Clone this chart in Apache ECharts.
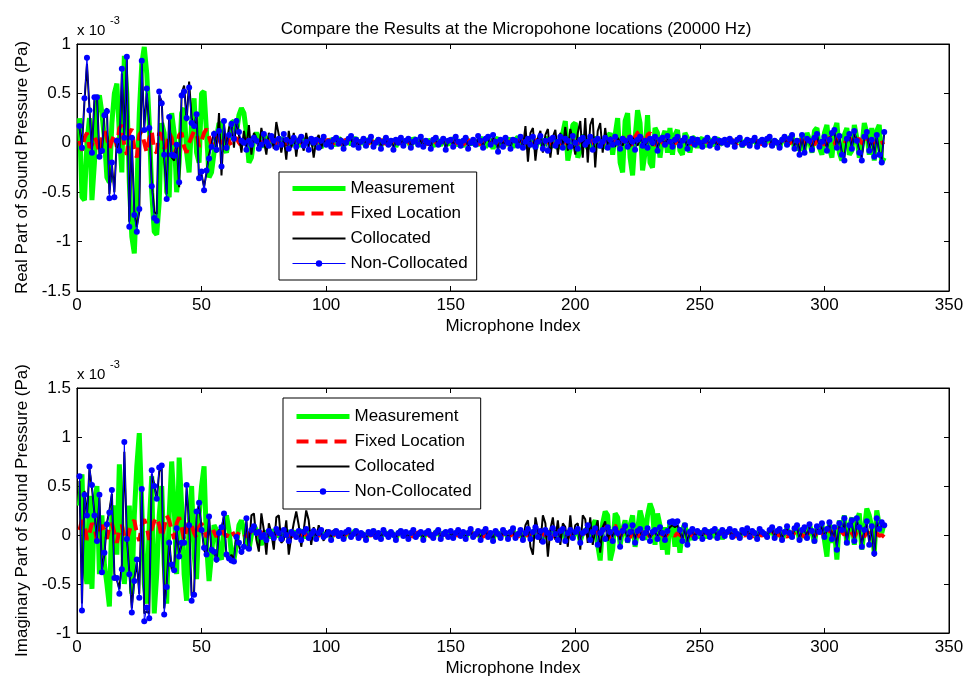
<!DOCTYPE html>
<html><head><meta charset="utf-8">
<script src="https://cdn.jsdelivr.net/npm/echarts@6/dist/echarts.min.js"></script>
<style>html,body{margin:0;padding:0;background:#fff}#c{width:972px;height:688px}</style>
</head><body><div id="c"></div>
<script>
// ---- data (values in units of 1e-3 Pa), microphone index 1..324 ----
const titleText = 'Compare the Results at the Micropohone locations (20000 Hz)';
const seriesNames = ['Measurement', 'Fixed Location', 'Collocated', 'Non-Collocated'];
const xTickValues = [0, 50, 100, 150, 200, 250, 300, 350];
const realTicks = [-1.5, -1, -0.5, 0, 0.5, 1];
const imagTicks = [-1, -0.5, 0, 0.5, 1, 1.5];

const realMeasurement = [
0.25,-0.55,-0.58,0.00,0.25,-0.58,-0.20,0.40,0.48,0.30,
0.05,-0.35,-0.40,0.20,0.50,0.60,0.10,-0.30,0.88,0.50,
-0.40,-0.95,-1.12,-0.50,0.30,0.80,0.97,0.70,0.20,-0.50,
-0.90,-0.93,-0.60,0.20,0.10,-0.50,-0.55,0.30,0.10,-0.50,
-0.20,0.30,0.35,-0.10,-0.30,0.20,0.45,-0.10,-0.20,0.50,
0.52,0.10,-0.35,-0.30,-0.10,0.05,0.20,0.18,-0.05,-0.10,
0.05,0.20,0.22,0.10,0.28,0.35,0.30,0.10,-0.20,-0.15,
0.05,0.10,0.05,-0.05,0.08,0.04,-0.03,0.06,0.02,-0.04,
0.03,0.05,-0.02,0.04,0.01,-0.03,0.05,0.02,-0.04,0.03,
0.04,-0.02,0.01,0.05,-0.03,0.02,0.04,-0.05,0.01,0.03,
-0.02,0.04,0.02,-0.03,0.05,0.01,-0.04,0.03,0.02,-0.02,
0.03,0.05,-0.03,0.02,0.01,-0.04,0.04,0.03,-0.02,0.01,
0.04,-0.03,0.02,0.05,-0.02,0.01,0.03,-0.04,0.02,0.04,
-0.02,0.03,0.01,-0.04,0.05,0.02,-0.03,0.04,0.01,-0.02,
0.03,0.01,-0.04,0.04,0.02,-0.03,0.05,0.00,-0.02,0.03,
0.04,-0.03,0.02,0.01,-0.04,0.05,0.02,-0.02,0.03,0.01,
-0.03,0.05,0.03,-0.05,0.04,0.02,-0.06,0.03,0.05,-0.04,
0.02,0.04,-0.03,0.05,-0.05,0.03,0.06,-0.04,0.02,0.04,
-0.05,0.03,0.05,-0.06,0.02,0.06,-0.04,0.03,0.05,-0.05,
0.04,0.02,-0.06,0.05,0.10,0.22,-0.18,-0.05,0.18,0.20,
-0.15,-0.08,0.08,0.03,-0.06,0.05,-0.08,0.06,0.02,-0.05,
0.04,-0.06,0.05,0.10,-0.12,0.08,0.25,-0.20,-0.30,0.22,
0.30,-0.15,-0.33,0.05,0.33,0.20,-0.28,-0.10,0.28,-0.20,
-0.25,0.15,0.10,-0.15,0.05,0.12,-0.10,0.15,-0.12,0.08,
0.13,-0.08,-0.12,0.10,0.05,-0.10,0.06,0.04,-0.05,0.03,
0.05,-0.04,0.02,0.04,-0.03,0.02,0.05,-0.02,0.01,0.03,
-0.03,0.04,0.02,-0.02,0.03,0.05,-0.04,0.01,0.03,-0.02,
0.02,0.04,-0.03,0.02,0.03,-0.02,0.04,0.05,-0.04,0.02,
0.01,-0.05,0.03,0.06,-0.03,0.05,0.08,-0.06,0.04,-0.08,
0.06,-0.08,0.10,0.03,-0.10,0.12,0.15,-0.05,-0.12,0.10,
0.18,-0.05,-0.15,0.12,0.20,-0.10,-0.18,0.08,0.15,-0.12,
-0.08,0.18,0.05,-0.15,-0.05,0.20,0.10,-0.12,0.15,-0.18,
0.12,0.18,-0.20,-0.15];

const realFixed = [
0.02,-0.08,0.05,0.10,-0.05,-0.02,0.06,0.00,-0.10,0.04,
0.12,0.05,-0.06,0.02,0.08,-0.04,0.15,0.18,-0.03,-0.12,
0.10,0.14,-0.05,-0.15,0.08,0.12,0.00,-0.10,0.05,0.12,
-0.08,-0.10,0.10,0.08,-0.06,-0.02,0.10,0.05,-0.12,-0.05,
0.08,0.10,-0.04,-0.10,0.00,0.06,0.12,0.10,-0.04,0.02,
0.10,0.14,0.06,-0.02,0.03,0.08,0.04,-0.02,0.02,0.06,
0.02,-0.03,0.04,0.05,0.00,-0.03,0.02,0.04,0.01,-0.02,
0.02,0.03,-0.01,0.00,0.02,0.01,-0.02,0.03,0.02,-0.01,
0.01,0.03,0.00,-0.02,0.02,0.01,-0.01,0.02,0.03,0.00,
-0.02,0.01,0.02,0.03,-0.01,0.00,0.02,0.01,-0.02,0.02,
0.03,0.00,-0.01,0.02,0.01,-0.02,0.02,0.03,0.00,-0.01,
0.02,0.01,-0.02,0.01,0.03,0.00,-0.01,0.02,0.01,-0.02,
0.02,0.03,0.00,-0.01,0.02,0.01,-0.02,0.01,0.03,0.00,
-0.01,0.02,0.01,-0.02,0.02,0.03,0.00,-0.01,0.02,0.01,
-0.02,0.01,0.03,0.00,-0.01,0.02,0.01,-0.02,0.02,0.03,
0.00,-0.01,0.02,0.01,-0.02,0.01,0.03,0.00,-0.01,0.02,
0.01,-0.02,0.02,0.03,0.00,-0.01,0.02,0.01,-0.02,0.02,
0.03,0.00,-0.01,0.02,0.01,-0.02,0.01,0.03,0.00,-0.01,
0.02,0.01,-0.02,0.02,0.03,0.00,-0.01,0.02,0.01,-0.02,
0.01,0.03,0.00,-0.01,0.02,0.01,-0.02,0.02,0.03,0.00,
-0.01,0.02,0.01,-0.02,0.02,0.03,0.00,-0.01,0.02,0.01,
-0.02,0.03,0.04,0.00,-0.03,0.05,0.06,-0.02,0.04,0.08,
0.10,0.05,-0.05,0.06,0.10,0.12,0.02,-0.06,0.08,0.10,
0.03,-0.03,0.04,0.05,0.00,-0.02,0.03,0.04,0.01,-0.01,
0.02,0.03,0.00,-0.01,0.02,0.01,-0.02,0.01,0.03,0.00,
-0.01,0.02,0.01,-0.02,0.02,0.03,0.00,-0.01,0.02,0.01,
-0.02,0.01,0.03,0.00,-0.01,0.02,0.01,-0.02,0.02,0.03,
0.00,-0.01,0.02,0.01,-0.02,0.01,0.03,0.00,-0.01,0.02,
0.01,-0.02,0.02,0.03,0.00,-0.01,0.02,0.01,-0.02,0.02,
0.03,0.00,-0.01,0.02,0.01,-0.02,0.03,0.04,0.00,-0.02,
0.03,0.05,0.02,-0.02,0.04,0.06,0.03,-0.01,0.04,0.05,
0.02,-0.02,0.03,0.04,0.00,-0.03,0.02,0.03,-0.01,0.01,
0.02,-0.01,0.00,0.01];

const realCollocated = [
0.15,-0.03,0.42,0.80,0.35,-0.08,0.44,0.48,-0.12,-0.10,
0.30,0.35,-0.52,-0.22,-0.50,0.05,-0.10,0.70,0.08,0.85,
-0.80,0.02,-0.70,-0.85,-0.70,0.80,0.15,0.50,0.18,-0.40,
-0.70,-0.72,0.48,0.42,-0.15,-0.52,0.28,-0.15,-0.18,0.00,
-0.45,0.50,0.58,0.22,0.62,0.25,0.15,0.30,-0.38,-0.32,
-0.45,-0.30,-0.12,-0.02,0.12,-0.10,0.30,-0.33,0.20,-0.08,
0.15,0.22,-0.05,0.25,0.08,-0.10,0.12,-0.05,0.18,-0.12,
0.10,0.05,-0.08,0.15,0.02,-0.12,0.10,0.05,-0.06,0.21,
0.08,-0.10,0.05,-0.17,0.12,-0.05,0.10,-0.14,0.06,0.02,
-0.08,0.10,-0.04,0.05,-0.15,0.03,0.08,-0.06,0.04,-0.03,
0.02,-0.05,0.04,0.03,-0.02,0.05,-0.04,0.01,0.03,0.05,
-0.03,0.02,-0.04,0.03,0.05,-0.02,0.01,0.04,-0.05,0.02,
0.04,-0.05,0.02,0.03,-0.03,0.04,-0.06,0.02,0.01,0.04,
-0.02,0.03,0.05,-0.04,0.00,0.02,-0.03,0.05,-0.05,0.03,
0.01,-0.05,0.04,0.03,-0.03,0.02,0.05,-0.06,0.01,0.04,
-0.03,0.05,0.02,-0.04,0.03,0.04,-0.05,0.01,0.02,-0.03,
0.05,0.03,-0.04,0.03,0.05,-0.03,0.06,0.02,-0.07,0.04,
-0.03,0.04,0.01,-0.05,0.04,0.03,-0.02,0.05,-0.04,0.17,
-0.19,0.10,0.15,-0.18,0.05,0.12,-0.10,0.08,0.14,-0.15,
0.06,0.13,-0.12,0.10,-0.05,0.16,-0.08,0.14,0.02,-0.12,
0.10,0.22,-0.15,0.25,-0.20,0.18,0.25,-0.25,0.12,0.20,
-0.10,0.15,-0.05,0.06,0.02,-0.04,0.05,0.01,-0.03,0.04,
0.02,-0.04,0.05,0.01,-0.03,0.04,0.00,-0.05,0.03,0.02,
-0.03,0.05,-0.06,0.02,0.04,-0.02,0.05,0.00,-0.04,0.03,
0.05,-0.02,0.03,0.04,-0.05,0.02,0.03,-0.03,0.02,0.01,
-0.03,0.03,0.04,-0.02,0.02,0.03,-0.04,0.01,0.01,0.02,
-0.02,0.03,0.02,-0.03,0.02,0.04,-0.01,0.01,0.02,-0.02,
0.03,0.04,-0.03,0.02,0.02,-0.01,0.03,0.05,-0.02,0.01,
0.01,-0.04,0.02,0.05,-0.02,0.03,0.06,-0.05,0.03,-0.10,
0.06,-0.08,0.05,0.01,-0.06,0.04,0.08,-0.03,0.02,0.05,
-0.06,0.04,0.09,0.11,-0.04,0.06,-0.10,-0.15,0.05,0.08,
-0.05,0.10,0.03,-0.08,-0.15,0.05,0.10,-0.07,0.04,-0.12,
0.07,-0.10,-0.17,0.10];

const realNonCollocated = [
0.17,-0.05,0.45,0.86,0.33,-0.10,0.46,0.46,-0.14,-0.08,
0.28,0.32,-0.56,-0.20,-0.55,0.02,-0.08,0.75,0.05,0.87,
-0.85,0.05,-0.73,-0.90,-0.67,0.83,0.13,0.55,0.15,-0.44,
-0.76,-0.79,0.52,0.40,-0.12,-0.57,0.26,-0.12,-0.13,-0.02,
-0.40,0.48,0.52,0.25,0.56,0.20,0.17,0.29,-0.36,-0.29,
-0.48,-0.28,-0.16,-0.04,0.09,-0.07,0.12,-0.24,0.22,-0.05,
0.08,0.19,0.04,0.22,0.11,0.02,0.00,-0.07,0.02,-0.02,
0.05,0.02,-0.06,-0.02,0.09,0.01,-0.03,0.07,0.02,-0.05,
0.04,-0.02,0.09,0.03,-0.06,0.01,0.05,-0.04,0.02,0.06,
-0.03,0.01,-0.07,0.04,0.00,0.03,-0.05,0.02,0.06,-0.02,
0.01,-0.04,0.03,0.05,-0.01,0.02,-0.06,0.00,0.04,0.07,
-0.02,0.03,-0.05,0.01,0.04,-0.03,0.02,0.06,-0.04,0.00,
0.03,-0.06,0.01,0.05,-0.02,0.02,-0.07,0.03,0.00,0.05,
-0.03,0.02,0.04,-0.05,0.01,0.03,-0.02,0.06,-0.04,0.02,
0.00,-0.06,0.03,0.05,-0.02,0.01,0.04,-0.07,0.02,0.03,
-0.04,0.06,0.01,-0.03,0.02,0.05,-0.06,0.00,0.03,-0.02,
0.07,0.02,-0.05,0.04,0.06,-0.02,0.08,0.01,-0.09,0.03,
-0.04,0.05,0.00,-0.06,0.03,0.02,-0.03,0.06,-0.05,0.01,
0.04,-0.02,0.06,-0.04,0.01,0.07,-0.06,0.02,-0.08,0.03,
0.05,-0.03,0.01,0.06,-0.05,0.04,0.02,-0.04,0.07,0.00,
-0.06,0.03,0.05,-0.02,0.01,0.06,-0.07,0.02,0.04,-0.03,
0.01,0.05,-0.05,0.03,-0.02,0.06,0.00,-0.06,0.04,0.02,
-0.04,0.05,0.01,-0.07,0.03,0.06,-0.03,0.02,-0.05,0.04,
0.00,0.06,-0.08,0.03,0.05,-0.02,0.07,0.01,-0.04,0.03,
0.06,-0.03,0.02,0.05,-0.06,0.01,0.04,-0.02,0.03,0.00,
-0.04,0.02,0.05,-0.03,0.01,0.04,-0.05,0.02,0.00,0.03,
-0.02,0.04,0.01,-0.04,0.03,0.05,-0.02,0.00,0.03,-0.03,
0.02,0.05,-0.04,0.01,0.03,-0.02,0.04,0.06,-0.03,0.02,
0.00,-0.05,0.03,0.06,-0.02,0.04,0.08,-0.06,0.02,-0.12,
0.08,-0.10,0.04,0.02,-0.07,0.05,0.09,-0.04,0.01,0.06,
-0.08,0.03,0.10,0.13,-0.05,0.07,-0.12,-0.18,0.04,0.09,
-0.06,0.12,0.02,-0.10,-0.18,0.06,0.11,-0.08,0.03,-0.14,
0.08,-0.12,-0.20,0.11];

const imagMeasurement = [
0.30,0.62,-0.30,-0.50,0.40,-0.55,0.30,0.50,-0.40,0.20,
-0.30,-0.50,-0.73,0.20,0.30,-0.20,0.72,0.10,-0.50,-0.20,
0.30,-0.60,0.20,0.70,1.04,0.30,-0.50,-0.70,0.10,0.60,
-0.80,-0.40,0.20,0.50,-0.30,-0.70,0.20,0.75,0.30,-0.40,
0.79,0.30,-0.40,-0.67,0.10,0.50,-0.20,-0.45,0.20,0.50,
0.70,-0.10,-0.47,-0.20,0.10,0.05,-0.20,-0.25,0.10,0.20,
0.05,-0.20,-0.25,-0.10,0.10,0.15,0.05,-0.10,-0.15,0.00,
0.10,0.05,-0.05,-0.10,0.00,0.04,-0.03,0.02,0.05,-0.02,
0.03,-0.04,0.02,0.05,-0.03,0.01,0.04,-0.02,0.03,0.05,
-0.03,0.02,0.04,-0.01,0.03,-0.04,0.02,0.05,-0.02,0.01,
0.04,-0.03,0.02,0.05,-0.02,0.03,-0.04,0.01,0.04,-0.02,
0.03,0.05,-0.03,0.02,0.01,-0.04,0.03,0.02,0.05,-0.02,
0.01,-0.03,0.04,0.02,-0.02,0.03,0.01,-0.04,0.02,0.05,
-0.02,0.03,-0.03,0.02,0.04,-0.02,0.01,0.03,-0.04,0.02,
0.04,0.00,-0.03,0.03,0.05,-0.03,0.02,0.03,-0.02,0.04,
-0.03,0.02,0.04,-0.02,0.03,-0.03,0.02,0.05,-0.02,0.01,
0.03,-0.04,0.03,0.05,-0.02,0.02,-0.05,0.04,0.02,-0.03,
0.04,0.02,-0.03,0.03,0.06,-0.03,0.01,0.04,-0.04,0.02,
0.05,-0.03,0.03,0.06,-0.02,0.04,-0.05,0.04,0.02,-0.03,
0.05,0.01,-0.04,0.04,0.05,-0.05,0.02,0.04,-0.03,0.03,
0.05,-0.06,0.02,0.04,0.08,-0.05,0.10,0.15,-0.10,-0.26,
0.12,0.24,0.20,-0.26,-0.15,0.22,0.18,-0.10,0.05,0.15,
-0.08,0.10,0.20,-0.12,0.05,0.25,0.15,-0.05,0.20,0.32,
0.25,-0.10,0.22,0.10,-0.15,0.08,-0.20,0.15,0.10,-0.12,
0.08,-0.18,0.05,0.12,-0.08,0.06,-0.05,0.04,0.02,-0.03,
0.04,0.02,-0.03,0.05,0.01,-0.02,0.04,0.03,-0.04,0.02,
0.03,0.05,-0.02,0.03,0.01,-0.04,0.04,0.02,0.05,-0.02,
0.03,0.02,-0.04,0.05,0.02,0.01,-0.02,0.04,0.06,-0.03,
0.03,0.05,-0.05,0.02,0.07,0.01,-0.03,0.06,0.09,-0.06,
0.04,0.07,-0.04,0.10,0.03,-0.08,0.08,0.02,0.10,-0.05,
-0.22,0.12,-0.08,0.06,-0.25,0.15,0.02,0.20,-0.10,0.08,
0.18,-0.10,0.15,0.22,-0.15,0.05,0.27,0.20,0.08,-0.18,
0.25,0.10,0.02,0.12];

const imagFixed = [
0.05,0.15,0.10,-0.05,0.02,0.12,0.08,-0.06,0.03,0.10,
0.05,-0.04,0.08,0.12,0.02,-0.08,0.05,0.10,-0.02,-0.06,
0.04,0.12,0.15,0.02,-0.06,0.10,0.16,0.08,-0.05,0.06,
0.14,0.18,0.10,-0.02,0.08,0.20,0.15,0.05,-0.04,0.12,
0.18,0.08,-0.05,0.06,0.14,0.10,0.02,-0.03,0.08,0.12,
0.05,-0.02,0.04,0.08,0.03,-0.02,0.05,0.06,0.01,-0.02,
0.03,0.05,0.00,-0.02,0.03,0.04,0.01,-0.02,0.02,0.03,
0.00,-0.02,0.02,0.03,0.01,-0.01,0.02,0.00,-0.02,0.01,
0.03,0.01,-0.01,0.02,0.00,-0.02,0.02,0.03,0.01,-0.01,
0.02,0.00,-0.02,0.01,0.03,0.01,-0.01,0.02,0.00,-0.02,
0.01,0.03,0.01,-0.01,0.02,0.00,-0.02,0.01,0.03,0.01,
-0.01,0.02,0.00,-0.02,0.01,0.03,0.01,-0.01,0.02,0.00,
-0.02,0.01,0.03,0.01,-0.01,0.02,0.00,-0.02,0.01,0.03,
0.01,-0.01,0.02,0.00,-0.02,0.01,0.03,0.01,-0.01,0.02,
0.00,-0.02,0.01,0.03,0.01,-0.01,0.02,0.00,-0.02,0.01,
0.03,0.01,-0.01,0.02,0.00,-0.02,0.01,0.03,0.01,-0.01,
0.02,0.00,-0.02,0.01,0.03,0.01,-0.01,0.02,0.00,-0.02,
0.01,0.03,0.01,-0.01,0.02,0.00,-0.02,0.01,0.03,0.01,
-0.01,0.02,0.00,-0.02,0.01,0.03,0.01,-0.01,0.02,0.00,
-0.02,0.01,0.03,0.01,-0.01,0.02,0.00,-0.02,0.01,0.03,
0.01,-0.01,0.02,0.04,0.00,-0.03,0.03,0.05,0.02,-0.02,
0.06,0.10,0.04,-0.04,0.08,0.10,0.02,-0.05,0.06,0.08,
0.03,-0.03,0.05,0.06,0.00,-0.02,0.04,0.05,0.01,-0.02,
0.03,0.01,-0.01,0.02,0.00,-0.02,0.01,0.03,0.01,-0.01,
0.02,0.00,-0.02,0.01,0.03,0.01,-0.01,0.02,0.00,-0.02,
0.01,0.03,0.01,-0.01,0.02,0.00,-0.02,0.01,0.03,0.01,
-0.01,0.02,0.00,-0.02,0.01,0.03,0.01,-0.01,0.02,0.00,
-0.02,0.01,0.03,0.01,-0.01,0.02,0.00,-0.02,0.01,0.03,
0.01,-0.01,0.02,0.00,-0.02,0.01,0.03,0.01,-0.01,0.02,
0.00,-0.02,0.01,0.03,0.01,-0.01,0.02,0.04,0.02,-0.01,
0.03,0.05,0.02,-0.02,0.04,0.06,0.03,0.00,0.04,0.05,
0.02,-0.02,0.03,0.04,0.01,-0.02,0.03,0.02,-0.01,0.01,
0.02,-0.01,0.00,-0.02];

const imagCollocated = [
0.55,-0.70,0.45,0.18,0.68,0.48,0.22,-0.04,0.38,-0.35,
-0.20,0.12,0.25,0.42,-0.40,-0.46,-0.55,-0.30,0.85,-0.02,
-0.38,-0.75,-0.45,-0.28,-0.60,0.45,-0.80,-0.78,-0.80,0.62,
0.52,0.35,0.65,0.68,-0.75,-0.50,-0.05,-0.35,-0.32,0.05,
-0.20,-0.10,-0.05,0.48,0.12,-0.62,-0.58,0.22,0.30,0.08,
-0.15,-0.22,0.20,-0.18,-0.15,-0.28,0.05,0.06,0.20,-0.22,
-0.25,-0.20,-0.25,0.00,-0.10,-0.20,-0.10,0.15,-0.16,0.20,
0.22,-0.05,-0.17,0.22,0.05,-0.20,0.12,0.02,-0.15,0.18,
0.20,-0.08,-0.05,0.15,-0.20,-0.02,0.12,0.24,0.10,-0.12,
0.05,0.25,0.15,-0.10,0.08,-0.05,0.10,0.02,-0.06,0.05,
0.03,-0.04,0.05,0.02,-0.03,0.04,-0.02,0.03,0.05,-0.03,
0.02,0.04,-0.04,0.03,0.01,-0.04,0.02,0.03,0.04,-0.03,
0.03,-0.03,0.04,0.02,-0.03,0.02,0.01,-0.04,0.03,0.04,
-0.02,0.02,-0.03,0.03,0.04,-0.03,0.02,0.02,-0.04,0.03,
0.03,0.01,-0.03,0.03,0.04,-0.03,0.02,0.02,-0.03,0.03,
-0.02,0.03,0.04,-0.02,0.02,-0.03,0.03,0.05,-0.03,0.02,
0.03,-0.04,0.04,0.05,-0.03,0.02,-0.05,0.04,0.02,-0.03,
0.04,0.03,-0.03,0.02,0.05,-0.04,0.02,0.04,-0.06,0.10,
0.15,-0.12,-0.20,0.18,0.05,-0.08,0.20,0.12,-0.22,0.06,
0.18,-0.05,0.15,-0.10,0.12,0.08,-0.12,0.20,-0.05,0.10,
0.12,-0.15,0.20,0.16,-0.08,0.18,-0.10,0.05,0.15,-0.18,
0.08,0.14,-0.06,0.05,-0.02,0.04,0.01,-0.05,0.03,0.05,
-0.03,0.02,0.05,-0.04,0.03,0.04,-0.02,0.01,0.04,-0.03,
0.02,0.04,-0.03,0.05,0.01,-0.03,0.03,0.08,0.10,0.08,
0.10,0.03,-0.04,0.07,-0.07,0.02,0.04,-0.02,0.03,0.01,
-0.02,0.04,0.02,-0.02,0.03,0.04,-0.02,0.01,0.04,0.00,
0.02,0.04,-0.01,0.03,0.01,-0.02,0.04,0.02,0.05,-0.01,
0.03,0.02,-0.03,0.04,0.02,0.01,-0.01,0.04,0.06,-0.02,
0.03,0.05,-0.04,0.03,0.07,0.02,-0.01,0.06,0.08,-0.04,
0.04,0.06,-0.02,0.09,0.03,-0.05,0.08,0.02,0.10,-0.02,
0.05,0.11,-0.03,0.07,-0.12,0.10,0.04,0.14,-0.06,0.08,
0.12,-0.05,0.14,0.06,-0.10,0.04,0.12,-0.08,0.08,-0.22,
0.14,0.05,0.11,0.08];

const imagNonCollocated = [
0.60,-0.77,0.41,0.20,0.70,0.51,0.20,-0.06,0.41,-0.38,
-0.18,0.11,0.23,0.46,-0.44,-0.44,-0.60,-0.35,0.95,-0.04,
-0.40,-0.79,-0.47,-0.25,-0.64,0.47,-0.88,-0.74,-0.85,0.66,
0.50,0.37,0.69,0.71,-0.81,-0.53,-0.08,-0.30,-0.36,0.07,
-0.22,-0.08,-0.08,0.51,0.10,-0.67,-0.61,0.24,0.33,0.05,
-0.13,-0.20,0.19,-0.15,-0.17,-0.25,0.02,0.08,0.22,-0.20,
-0.24,-0.26,-0.27,-0.02,-0.08,-0.17,-0.12,0.17,-0.14,0.05,
0.09,0.02,0.03,-0.02,0.00,-0.05,0.04,0.01,-0.03,0.06,
0.02,-0.04,0.05,0.00,-0.06,0.03,0.01,-0.02,0.04,-0.05,
0.03,0.06,-0.03,0.01,0.04,-0.04,0.02,0.05,-0.02,0.00,
0.03,-0.05,0.02,0.04,-0.01,0.02,-0.04,0.03,0.05,-0.02,
0.01,0.04,-0.03,0.02,0.00,-0.05,0.03,0.01,0.04,-0.02,
0.02,-0.04,0.05,0.01,-0.02,0.03,0.00,-0.05,0.02,0.04,
-0.01,0.03,-0.04,0.02,0.05,-0.02,0.01,0.03,-0.05,0.02,
0.04,0.00,-0.03,0.02,0.05,-0.04,0.01,0.03,-0.02,0.04,
-0.03,0.02,0.05,-0.01,0.03,-0.04,0.02,0.06,-0.02,0.01,
0.04,-0.05,0.03,0.06,-0.02,0.02,-0.06,0.04,0.01,-0.03,
0.05,0.02,-0.04,0.03,0.07,-0.03,0.01,0.05,-0.05,0.02,
0.06,-0.04,0.03,0.08,-0.02,0.04,-0.07,0.05,0.02,-0.03,
0.07,0.01,-0.05,0.04,0.06,-0.06,0.02,0.05,-0.03,0.03,
0.06,-0.08,0.02,0.04,0.10,-0.05,0.03,0.07,-0.10,0.02,
0.05,-0.04,0.08,0.03,-0.06,0.06,0.02,-0.12,0.04,0.09,
-0.05,0.03,0.10,-0.08,0.04,0.06,-0.03,0.02,0.07,-0.06,
0.03,0.05,-0.04,0.08,0.02,-0.05,0.04,0.13,0.14,0.12,
0.14,0.05,-0.06,0.10,-0.10,0.03,0.06,-0.03,0.04,0.02,
-0.04,0.05,0.03,-0.02,0.04,0.06,-0.03,0.02,0.05,-0.01,
0.03,0.06,-0.02,0.04,0.01,-0.03,0.05,0.02,0.07,-0.02,
0.04,0.02,-0.04,0.06,0.03,0.01,-0.02,0.05,0.08,-0.03,
0.04,0.06,-0.05,0.03,0.09,0.02,-0.02,0.07,0.10,-0.05,
0.05,0.08,-0.03,0.11,0.04,-0.06,0.09,0.03,0.12,-0.02,
0.06,0.13,-0.04,0.08,-0.15,0.12,0.05,0.17,-0.08,0.10,
0.15,-0.06,0.17,0.08,-0.12,0.05,0.14,-0.10,0.09,-0.19,
0.17,0.06,0.13,0.10];

// ---- chart ----
const F = "'Liberation Sans', Arial, Helvetica, sans-serif";
const FS = 17;
const pts = a => a.map((v, i) => [i + 1, v]);

function xAxisDef(gi, pos, main) {
  return {
    type: 'value', gridIndex: gi, position: pos, min: 0, max: 350, interval: 50,
    axisLine: { show: true, onZero: false, lineStyle: { color: '#000', width: 1 } },
    axisTick: { show: true, inside: true, length: 5, lineStyle: { color: '#000', width: 1 } },
    axisLabel: { show: main, color: '#000', fontSize: FS, fontFamily: F, margin: 6 },
    splitLine: { show: false },
    name: main ? 'Microphone Index' : '', nameLocation: 'middle', nameGap: 27,
    nameTextStyle: { color: '#000', fontSize: FS, fontFamily: F }
  };
}
function yAxisDef(gi, pos, main, mn, mx, nm) {
  return {
    type: 'value', gridIndex: gi, position: pos, min: mn, max: mx, interval: 0.5,
    axisLine: { show: true, onZero: false, lineStyle: { color: '#000', width: 1 } },
    axisTick: { show: true, inside: true, length: 5, lineStyle: { color: '#000', width: 1 } },
    axisLabel: { show: main, color: '#000', fontSize: FS, fontFamily: F, margin: 6 },
    splitLine: { show: false },
    name: main ? nm : '', nameLocation: 'middle', nameGap: 46,
    nameTextStyle: { color: '#000', fontSize: FS, fontFamily: F }
  };
}
function seriesSet(gi, meas, fixed, coll, ncoll) {
  const xi = gi * 2, yi = gi * 2;
  const base = { type: 'line', xAxisIndex: xi, yAxisIndex: yi, animation: false, silent: true, smooth: false };
  return [
    Object.assign({}, base, { name: seriesNames[0], data: pts(meas), symbol: 'none',
      lineStyle: { color: '#00ff00', width: 5 }, itemStyle: { color: '#00ff00' }, z: 2 }),
    Object.assign({}, base, { name: seriesNames[1], data: pts(fixed), symbol: 'none',
      lineStyle: { color: '#ff0000', width: 4, type: [12, 7] }, itemStyle: { color: '#ff0000' }, z: 3 }),
    Object.assign({}, base, { name: seriesNames[2], data: pts(coll), symbol: 'none',
      lineStyle: { color: '#000000', width: 2 }, itemStyle: { color: '#000000' }, z: 4 }),
    Object.assign({}, base, { name: seriesNames[3], data: pts(ncoll), symbol: 'circle', symbolSize: 6,
      lineStyle: { color: '#0000ff', width: 1 }, itemStyle: { color: '#0000ff' }, z: 5 })
  ];
}
function legendDef(left, top, gap, pad) {
  return {
    orient: 'vertical', left: left, top: top, itemWidth: 53, itemHeight: 8, itemGap: gap,
    padding: pad, borderColor: '#000', borderWidth: 1, backgroundColor: '#fff',
    selectedMode: false, z: 20,
    textStyle: { color: '#000', fontSize: FS, fontFamily: F },
    data: [
      { name: seriesNames[0], itemStyle: { opacity: 0 }, lineStyle: { color: '#00ff00', width: 5, type: 'solid' } },
      { name: seriesNames[1], itemStyle: { opacity: 0 }, lineStyle: { color: '#ff0000', width: 4, type: [12, 7] } },
      { name: seriesNames[2], itemStyle: { opacity: 0 }, lineStyle: { color: '#000000', width: 2, type: 'solid' } },
      { name: seriesNames[3], itemStyle: { color: '#0000ff' }, lineStyle: { color: '#0000ff', width: 1, type: 'solid' } }
    ]
  };
}

const chart = echarts.init(document.getElementById('c'), null, { renderer: 'canvas' });
chart.setOption({
  animation: false,
  backgroundColor: '#fff',
  title: {
    text: titleText, left: 511, top: 16, textAlign: 'center',
    textStyle: { color: '#000', fontSize: FS, fontWeight: 'normal', fontFamily: F }
  },
  grid: [
    { left: 77, top: 44, width: 872, height: 247, show: true, borderColor: '#000', borderWidth: 1, backgroundColor: 'transparent' },
    { left: 77, top: 388, width: 872, height: 245, show: true, borderColor: '#000', borderWidth: 1, backgroundColor: 'transparent' }
  ],
  xAxis: [xAxisDef(0, 'bottom', true), xAxisDef(0, 'top', false), xAxisDef(1, 'bottom', true), xAxisDef(1, 'top', false)],
  yAxis: [
    yAxisDef(0, 'left', true, -1.5, 1, 'Real Part of Sound Pressure (Pa)'),
    yAxisDef(0, 'right', false, -1.5, 1, ''),
    yAxisDef(1, 'left', true, -1, 1.5, 'Imaginary Part of Sound Pressure (Pa)'),
    yAxisDef(1, 'right', false, -1, 1.5, '')
  ],
  legend: [legendDef(279, 172, 8, [8, 9, 8, 11]), legendDef(283, 398, 8, [10, 9, 9, 11])],
  graphic: [
    { type: 'text', x: 77, y: 23, style: { text: 'x 10', fill: '#000', fontSize: 15, fontFamily: F } },
    { type: 'text', x: 110, y: 15, style: { text: '-3', fill: '#000', fontSize: 11, fontFamily: F } },
    { type: 'text', x: 77, y: 367, style: { text: 'x 10', fill: '#000', fontSize: 15, fontFamily: F } },
    { type: 'text', x: 110, y: 359, style: { text: '-3', fill: '#000', fontSize: 11, fontFamily: F } }
  ],
  series: seriesSet(0, realMeasurement, realFixed, realCollocated, realNonCollocated)
    .concat(seriesSet(1, imagMeasurement, imagFixed, imagCollocated, imagNonCollocated))
});
</script>
</body></html>
